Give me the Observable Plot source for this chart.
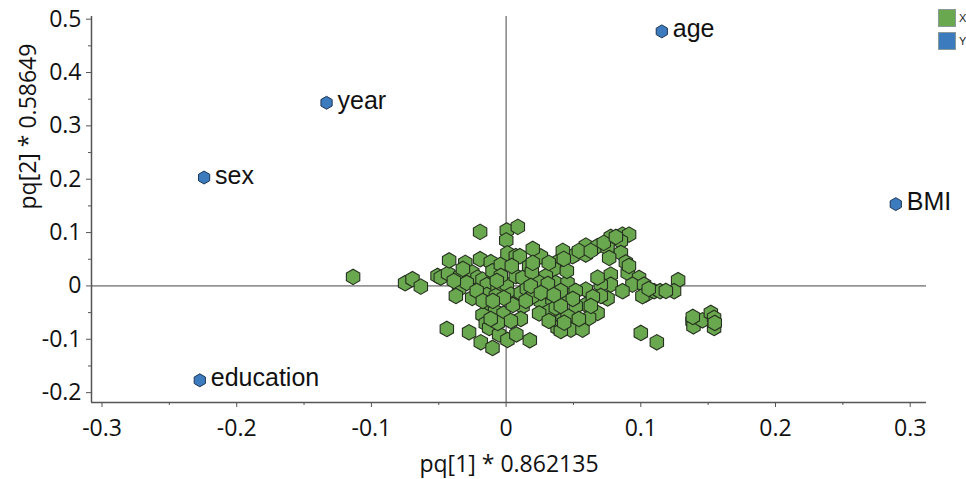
<!DOCTYPE html>
<html><head><meta charset="utf-8">
<script src="https://cdn.jsdelivr.net/npm/d3@7"></script>
<script src="https://cdn.jsdelivr.net/npm/@observablehq/plot@0.6"></script>
<style>
html,body{margin:0;padding:0;background:#fff;overflow:hidden;}
#wrap{position:relative;width:966px;height:479px;}
.leg{position:absolute;left:938px;height:18px;display:flex;align-items:center;font:11px "Liberation Sans",Arial,sans-serif;color:#222;white-space:nowrap;}
.leg span.sw{display:inline-block;width:18px;height:18px;margin-right:3px;border:1px solid #8a9a9a;box-sizing:border-box;}
</style></head><body><div id="wrap"></div>
<script>
// axis ticks
const xTicks = [-0.3,-0.2,-0.1,0,0.1,0.2,0.3];
const xMinor = [-0.25,-0.15,-0.05,0.05,0.15,0.25];
const yTicks = [-0.2,-0.1,0,0.1,0.2,0.3,0.4,0.5];
const yMinor = [-0.15,-0.05,0.05,0.15,0.25,0.35,0.45];
const xTitle = "pq[1] * 0.862135";
const yTitle = "pq[2] * 0.58649";
const legendLabels = ["X","Y"];
// Y loadings (blue)
const yNames = ["age","BMI","sex","education","year"];
const yPq1 = [0.1156,0.2893,-0.2242,-0.2274,-0.1333];
const yPq2 = [0.4771,0.1533,0.2032,-0.1769,0.3433];
// X loadings (green)
const xPq1 = [-0.1136,-0.0750,-0.0695,-0.0633,-0.0509,-0.0485,-0.0431,-0.0423,-0.0303,-0.0341,
 -0.0349,-0.0262,-0.0251,-0.0252,-0.0212,-0.0193,-0.0193,-0.0175,-0.0143,-0.0143,
 -0.0114,-0.0101,-0.0064,-0.0039,0.0005,0.0001,0.0010,0.0072,0.0005,0.0035,
 0.0072,0.0085,0.0087,-0.0138,-0.0082,-0.0019,-0.0175,-0.0151,-0.0126,-0.0052,
 0.0010,0.0076,-0.0440,-0.0275,-0.0188,-0.0101,0.0102,0.0171,0.0258,0.0382,
 0.0354,0.0493,0.0592,0.0592,0.0679,0.0777,0.0864,0.0913,0.0852,0.0753,
 0.0852,0.0765,0.0889,0.0903,0.0987,0.0938,0.1024,0.1037,0.1099,0.1143,
 0.1277,0.1247,0.0777,0.0777,0.0703,0.0864,0.0753,0.0233,0.0122,0.0109,
 0.0122,0.0258,0.0344,0.0369,0.0456,0.0443,0.0592,0.0592,0.0517,0.0679,
 0.0319,0.0245,0.0419,0.0382,0.0480,0.0567,0.0616,0.0176,0.0456,0.0295,
 0.0245,0.0679,0.0703,0.0369,0.0406,0.0431,0.1384,0.1391,0.1458,0.1520,
 0.1544,0.1544,0.1000,0.1119,0.1386,0.1549,-0.0039,0.0042,-0.0076,0.0050,
 0.0154,0.0191,0.0295,0.0317,0.0198,0.0421,0.0517,0.0644,0.0109,-0.0292,
 -0.0388,-0.0218,-0.0017,0.0191,0.0310,0.0451,0.1012,
 -0.0173,-0.0099,-0.0069,0.0035,-0.0062,0.0183,0.0406,0.0495,0.0317,0.0629,
 0.0540,0.0406,0.0198,0.0428,0.0540,0.0629,0.0725,0.0815,0.0912,0.1186,
 0.1059,-0.0321,-0.0373,-0.0114,0.0146,0.0258,0.0354];
const xPq2 = [0.0169,0.0051,0.0126,-0.0013,0.0188,0.0156,0.0231,0.0478,0.0432,0.0182,
 -0.0056,0.0150,0.0250,-0.0225,0.0156,0.1013,0.0501,0.0118,0.0019,-0.0169,
 0.0445,0.0276,-0.0006,0.0400,0.1041,0.0854,0.0610,0.0557,0.0024,-0.0163,
 0.0182,-0.0287,0.1107,-0.0413,-0.0475,-0.0520,-0.0544,-0.0704,-0.0788,-0.0910,
 -0.1013,-0.0910,-0.0807,-0.0869,-0.1056,-0.1163,0.0557,0.0370,0.0553,0.0450,
 0.0319,0.0557,0.0756,0.0587,0.0745,0.0919,0.0962,0.0962,0.0839,0.0713,
 0.0619,0.0525,0.0441,0.0244,0.0150,0.0024,0.0024,-0.0163,-0.0099,-0.0099,
 0.0107,-0.0099,0.0212,0.0024,0.0024,-0.0099,-0.0235,0.0088,0.0150,-0.0131,
 -0.0381,-0.0287,-0.0257,0.0056,0.0056,-0.0163,-0.0069,-0.0351,-0.0381,-0.0507,
 -0.0475,-0.0516,-0.0632,-0.0788,-0.0820,-0.0820,-0.0600,-0.1019,-0.0568,0.0182,
 0.0062,0.0156,-0.0188,-0.0407,-0.0844,-0.0689,-0.0662,-0.0756,-0.0644,-0.0507,
 -0.0600,-0.0788,-0.0882,-0.1056,-0.0582,-0.0694,0.0188,0.0375,-0.0188,-0.0356,
 -0.0056,-0.0206,-0.0094,0.0432,0.0694,0.0657,-0.0094,-0.0206,-0.0619,0.0056,
 0.0094,-0.0094,-0.0225,0.0263,0.0038,0.0281,-0.0193,
 -0.0281,-0.0281,0.0094,-0.0657,-0.0694,0.0000,-0.0094,-0.0244,-0.0657,-0.0375,
 -0.0619,-0.0375,0.0432,0.0507,0.0657,0.0657,0.0807,0.0919,0.0375,-0.0094,
 -0.0056,0.0319,-0.0188,-0.0619,-0.0281,-0.0131,-0.0169];

const xData = xPq1.map((v,i)=>({x:v,y:xPq2[i]}));
const yData = yNames.map((n,i)=>({name:n,x:yPq1[i],y:yPq2[i]}));
const xDomain = [-0.3078, 0.3121];
const yDomain = [-0.2185, 0.505];
const fmt = d => d === 0 ? "0" : String(d);
const GREEN = "#6aa84f", BLUE = "#3d7bbf";
const tickFont = "'Open Sans', 'Noto Sans', sans-serif";

const chart = Plot.plot({
  width: 966, height: 479,
  marginLeft: 91, marginRight: 40, marginTop: 16, marginBottom: 77,
  style: {fontFamily: tickFont, fontSize: "23px", color: "#111", background: "#fff"},
  x: {domain: xDomain},
  y: {domain: yDomain},
  marks: [
    Plot.ruleX([0], {stroke: "#444", strokeWidth: 1}),
    Plot.ruleY([0], {stroke: "#444", strokeWidth: 1}),
    Plot.ruleX([xDomain[0]], {stroke: "#555", strokeWidth: 1.5}),
    Plot.ruleY([yDomain[0]], {stroke: "#555", strokeWidth: 1.5}),
    Plot.axisX(xTicks, {tickSize: 5, tickPadding: 12, tickFormat: fmt, stroke: "#555", label: null, fontSize: 23}),
    Plot.axisX(xMinor, {tickSize: 3, tickFormat: () => "", stroke: "#555", label: null}),
    Plot.axisY(yTicks, {tickSize: 5, tickPadding: 5, tickFormat: fmt, stroke: "#555", label: null, fontSize: 23}),
    Plot.axisY(yMinor, {tickSize: 3, tickFormat: () => "", stroke: "#555", label: null}),
    Plot.text([xTitle], {frameAnchor: "bottom", dy: 62, fontSize: 23, fill: "#111", lineAnchor: "middle"}),
    Plot.text([yTitle], {frameAnchor: "left", dx: -63, rotate: -90, fontSize: 23, fill: "#111", lineAnchor: "middle"}),
    Plot.dot(xData, {x: "x", y: "y", symbol: "hexagon", r: 6.7, fill: GREEN, stroke: "#263020", strokeWidth: 1.1, fillOpacity: 1}),
    Plot.dot(yData, {x: "x", y: "y", symbol: "hexagon", r: 5.6, fill: BLUE, stroke: "#1c3554", strokeWidth: 1}),
    Plot.text(yData, {x: "x", y: "y", text: "name", dx: 11, dy: -2, textAnchor: "start", lineAnchor: "middle", fontSize: 25, fontFamily: "'Liberation Sans', Arial, sans-serif", fill: "#111"})
  ]
});
const wrap = document.getElementById("wrap");
wrap.appendChild(chart);
const legColors = [GREEN, BLUE];
legendLabels.forEach((lab, i) => {
  const d = document.createElement("div");
  d.className = "leg";
  d.style.top = (9 + i * 23) + "px";
  const sw = document.createElement("span");
  sw.className = "sw";
  sw.style.background = legColors[i];
  d.appendChild(sw);
  d.appendChild(document.createTextNode(lab));
  wrap.appendChild(d);
});
</script>
</body></html>
